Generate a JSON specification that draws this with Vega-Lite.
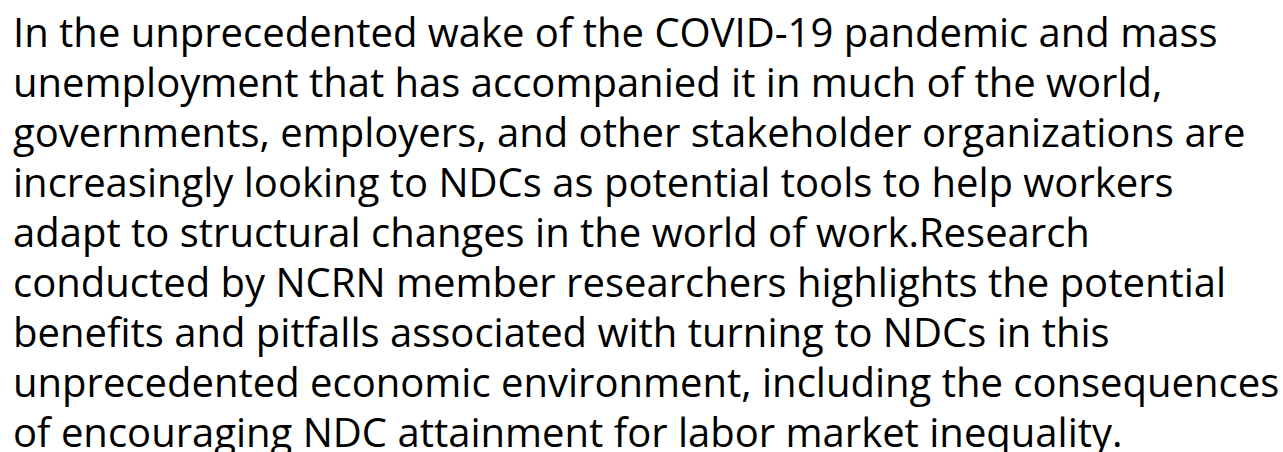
{
  "$schema": "https://vega.github.io/schema/vega-lite/v6.json",
  "width": 1283,
  "height": 452,
  "autosize": {"type": "fit", "contains": "padding"},
  "padding": 0,
  "background": "#ffffff",
  "view": {"stroke": null},
  "data": {
    "values": [
      {"line": 1, "text": "In the unprecedented wake of the COVID-19 pandemic and mass"},
      {"line": 2, "text": "unemployment that has accompanied it in much of the world,"},
      {"line": 3, "text": "governments, employers, and other stakeholder organizations are"},
      {"line": 4, "text": "increasingly looking to NDCs as potential tools to help workers"},
      {"line": 5, "text": "adapt to structural changes in the world of work.Research"},
      {"line": 6, "text": "conducted by NCRN member researchers highlights the potential"},
      {"line": 7, "text": "benefits and pitfalls associated with turning to NDCs in this"},
      {"line": 8, "text": "unprecedented economic environment, including the consequences"},
      {"line": 9, "text": "of encouraging NDC attainment for labor market inequality."}
    ]
  },
  "mark": {"type": "text", "align": "left", "baseline": "alphabetic", "font": "Open Sans", "fontSize": 40, "color": "#000000"},
  "encoding": {
    "x": {"datum": 0, "type": "quantitative", "scale": {"domain": [-13, 1270], "nice": false, "zero": false}, "axis": null},
    "y": {"field": "line", "type": "quantitative", "scale": {"domain": [0.06, 9.1], "range": [0, 452], "nice": false, "zero": false}, "axis": null},
    "text": {"field": "text"}
  }
}
